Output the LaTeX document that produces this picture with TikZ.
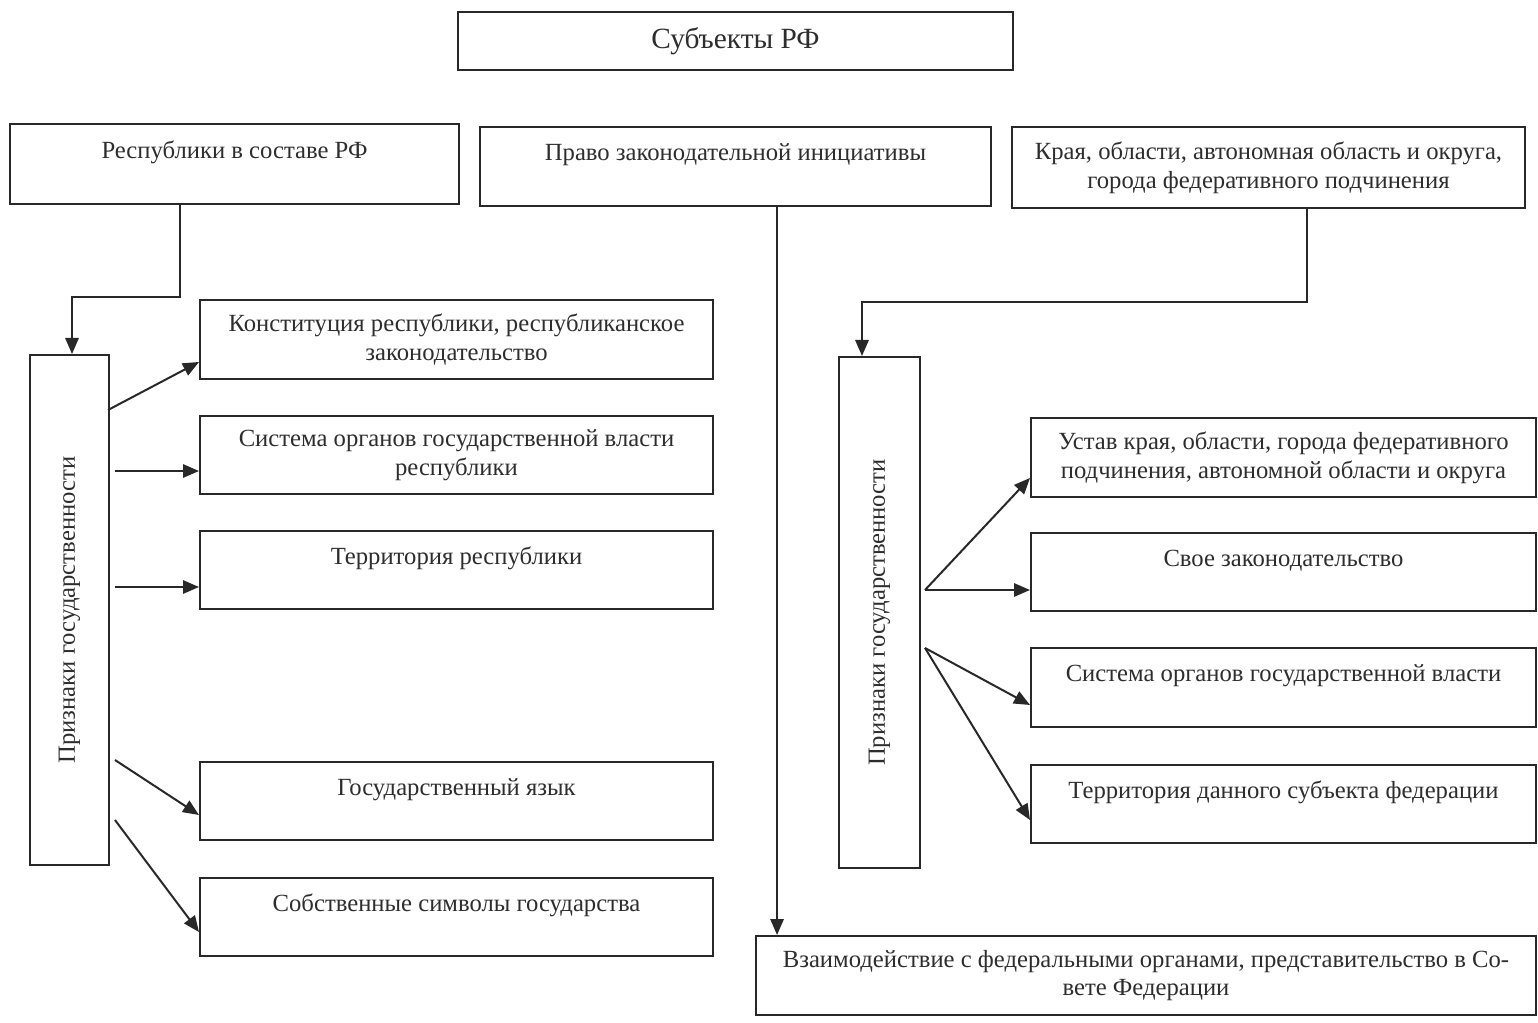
\documentclass[tikz,border=0pt]{standalone}
\usepackage{fontspec}
\setmainfont{Liberation Serif}
\usetikzlibrary{arrows.meta,calc}

\definecolor{inkgray}{RGB}{40,40,40}
\definecolor{txtgray}{RGB}{45,45,45}

\tikzset{every picture/.style={line width=1.5pt}}
\tikzset{
  box/.style={draw=inkgray, rectangle, align=center, text=txtgray, inner sep=2pt,
    font=\fontsize{18.5}{21.5}\selectfont},
  vbox/.style={box, rotate=90},
  conn/.style={draw=inkgray, -{Triangle[width=10pt,length=12pt]}},
  plain/.style={draw=inkgray}
}

\begin{document}
\begin{tikzpicture}[x=0.75pt,y=0.75pt,yscale=-1,xscale=1]
    \useasboundingbox (0,0) rectangle (1538,1023);

    %Shape: Rectangle [top]
    \node[box, minimum width=416.25pt, minimum height=43.5pt, font=\fontsize{22}{26}\selectfont] (subj) at (735.5,41) {Субъекты РФ};

    %Shape: Rectangle [second row]
    \node[box, minimum width=336.75pt, minimum height=60pt] (rep) at (234.5,164) {Республики в составе РФ\\[-7pt] \strut};
    \node[box, minimum width=383.25pt, minimum height=59.25pt] (pravo) at (735.5,166.5) {Право законодательной инициативы\\[-7pt] \strut};
    \node[box, minimum width=384.75pt, minimum height=60.75pt] (kraya) at (1268.5,167.5) {Края, области, автономная область и округа,\\ города федеративного подчинения};

    %Shape: Rectangle [vertical boxes]
    \node[vbox, minimum width=382.5pt, minimum height=59.25pt] (lsign) at (69.5,610) {Признаки государственности};
    \node[vbox, minimum width=383.25pt, minimum height=60.75pt] (rsign) at (879.5,612.5) {Признаки государственности};

    %Shape: Rectangle [left column]
    \node[box, minimum width=384.75pt, minimum height=59.25pt] (konst) at (456.5,339.5) {Конституция республики, республиканское\\ законодательство};
    \node[box, minimum width=384.75pt, minimum height=58.5pt] (sist) at (456.5,455) {Система органов государственной власти\\ республики};
    \node[box, minimum width=384.75pt, minimum height=58.5pt] (terr) at (456.5,570) {Территория республики\\[-7pt] \strut};
    \node[box, minimum width=384.75pt, minimum height=58.5pt] (yaz) at (456.5,801) {Государственный язык\\[-7pt] \strut};
    \node[box, minimum width=384.75pt, minimum height=58.5pt] (simv) at (456.5,917) {Собственные символы государства\\[-7pt] \strut};

    %Shape: Rectangle [right column]
    \node[box, minimum width=378.75pt, minimum height=59.25pt] (ustav) at (1283.5,457.5) {Устав края, области, города федеративного\\ подчинения, автономной области и округа};
    \node[box, minimum width=378.75pt, minimum height=58.5pt] (svoe) at (1283.5,572) {Свое законодательство\\[-7pt] \strut};
    \node[box, minimum width=378.75pt, minimum height=59.25pt] (sist2) at (1283.5,687.5) {Система органов государственной власти\\[-7pt] \strut};
    \node[box, minimum width=378.75pt, minimum height=58.5pt] (terr2) at (1283.5,804) {Территория данного субъекта федерации\\[-7pt] \strut};

    %Shape: Rectangle [bottom]
    \node[box, minimum width=585pt, minimum height=59.25pt] (fed) at (1146,975.5) {Взаимодействие с федеральными органами, представительство в Со-\\ вете Федерации};

    %Coordinates
    \coordinate (repout) at ($(rep.south west)!0.379!(rep.south east)$);
    \coordinate (pravoout) at ($(pravo.south west)!0.581!(pravo.south east)$);
    \coordinate (krayaout) at ($(kraya.south west)!0.575!(kraya.south east)$);
    \coordinate (lbend) at (72,297);
    \coordinate (rbend) at (862,302);
    \coordinate (l1) at (108,410);
    \coordinate (l2) at (115,471);
    \coordinate (l3) at (115,587);
    \coordinate (l4) at (115,760);
    \coordinate (l5) at (115,820);
    \coordinate (r1) at (925,590);
    \coordinate (r2) at (925,648);

    %Connectors
    \draw[conn] (repout) |- (lbend) -- (lbend |- lsign.east);
    \draw[conn] (pravoout) -- (pravoout |- fed.north);
    \draw[conn] (krayaout) |- (rbend) -- (rbend |- rsign.east);

    %Straight Lines [left]
    \draw[conn] (l1) -- (konst.west |- 0,362);
    \draw[conn] (l2) -- (sist.west |- 0,471);
    \draw[conn] (l3) -- (terr.west |- 0,587);
    \draw[conn] (l4) -- (yaz.west |- 0,815);
    \draw[conn] (l5) -- (simv.west |- 0,932);

    %Straight Lines [right]
    \draw[conn] (r1) -- (ustav.west |- 0,478);
    \draw[conn] (r1) -- (svoe.west |- 0,590);
    \draw[conn] (r2) -- (sist2.west |- 0,705);
    \draw[conn] (r2) -- (terr2.west |- 0,820);

\end{tikzpicture}
\end{document}
